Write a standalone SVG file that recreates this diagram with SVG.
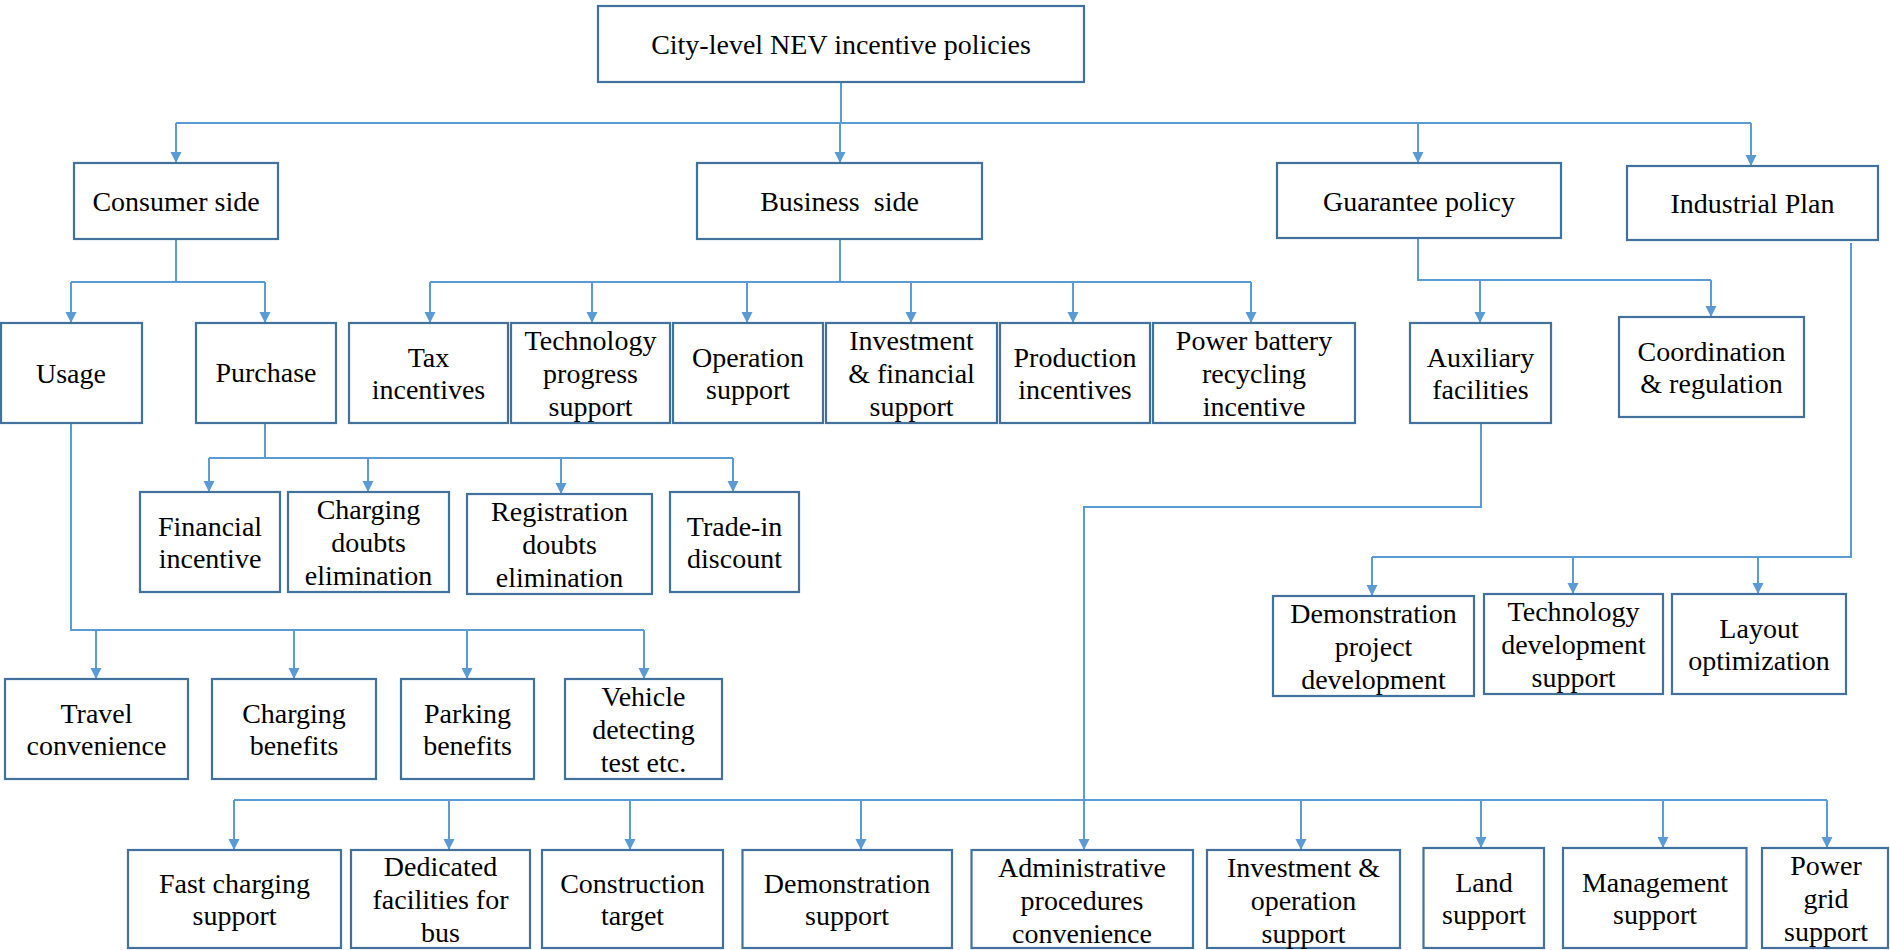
<svg xmlns="http://www.w3.org/2000/svg" width="1890" height="950" viewBox="0 0 1890 950">
<style>
.box{fill:#fff;stroke:#41719C;stroke-width:2.2}
.c{fill:none;stroke:#5B9BD5;stroke-width:2}
.a{fill:none;stroke:#5B9BD5;stroke-width:2;marker-end:url(#arr)}
text{font-family:"Liberation Serif","Times New Roman",serif;font-size:28px;fill:#000;text-anchor:middle}
</style>
<defs>
<marker id="arr" markerUnits="userSpaceOnUse" markerWidth="12" markerHeight="12" refX="11" refY="5.5" orient="auto">
<path d="M0,0 L11,5.5 L0,11 z" fill="#5B9BD5"/>
</marker>
</defs>
<rect width="1890" height="950" fill="#fff"/>
<g id="connectors">
<path class="c" d="M841,82 V123 M176,123 H1751"/>
<path class="a" d="M176,123 V163"/>
<path class="a" d="M840,123 V163"/>
<path class="a" d="M1418,123 V163"/>
<path class="a" d="M1751,123 V166"/>
<path class="c" d="M176,239 V282 M71,282 H265"/>
<path class="a" d="M71,282 V323"/>
<path class="a" d="M265,282 V323"/>
<path class="c" d="M840,239 V282 M430,282 H1251"/>
<path class="a" d="M430,282 V323"/>
<path class="a" d="M592,282 V323"/>
<path class="a" d="M747,282 V323"/>
<path class="a" d="M911,282 V323"/>
<path class="a" d="M1073,282 V323"/>
<path class="a" d="M1251,282 V323"/>
<path class="c" d="M1418,238 V280 H1711"/>
<path class="a" d="M1480,280 V323"/>
<path class="a" d="M1711,280 V317"/>
<path class="c" d="M1851,243 V557 H1372"/>
<path class="a" d="M1372,557 V596"/>
<path class="a" d="M1573,557 V594"/>
<path class="a" d="M1758,557 V594"/>
<path class="c" d="M265,423 V458 M209,458 H733"/>
<path class="a" d="M209,458 V492"/>
<path class="a" d="M368,458 V492"/>
<path class="a" d="M561,458 V494"/>
<path class="a" d="M733,458 V492"/>
<path class="c" d="M71,423 V630 H644"/>
<path class="a" d="M96,630 V679"/>
<path class="a" d="M294,630 V679"/>
<path class="a" d="M467,630 V679"/>
<path class="a" d="M644,630 V679"/>
<path class="c" d="M1481,423 V507 H1084 V800 M234,800 H1827"/>
<path class="a" d="M234,800 V850"/>
<path class="a" d="M449,800 V850"/>
<path class="a" d="M630,800 V850"/>
<path class="a" d="M861,800 V850"/>
<path class="a" d="M1084,800 V850"/>
<path class="a" d="M1301,800 V850"/>
<path class="a" d="M1481,800 V848"/>
<path class="a" d="M1663,800 V848"/>
<path class="a" d="M1827,800 V848"/>
</g>
<g id="root"><rect class="box" x="598" y="6" width="486" height="76"/><text x="841" y="54">City-level NEV incentive policies</text></g>
<g id="consumer"><rect class="box" x="74" y="163" width="204" height="76"/><text x="176" y="211">Consumer side</text></g>
<g id="business"><rect class="box" x="697" y="163" width="285" height="76"/><text x="839.5" y="211" xml:space="preserve">Business  side</text></g>
<g id="guarantee"><rect class="box" x="1277" y="163" width="284" height="75"/><text x="1419" y="211">Guarantee policy</text></g>
<g id="industrial"><rect class="box" x="1627" y="166" width="251" height="74"/><text x="1752.5" y="213">Industrial Plan</text></g>
<g id="usage"><rect class="box" x="1" y="323" width="141" height="100"/><text x="71" y="383">Usage</text></g>
<g id="purchase"><rect class="box" x="196" y="323" width="140" height="100"/><text x="266" y="382">Purchase</text></g>
<g id="tax"><rect class="box" x="349" y="323" width="159" height="100"/><text x="428.5" y="367">Tax</text><text x="428.5" y="399">incentives</text></g>
<g id="techprog"><rect class="box" x="511" y="323" width="159" height="100"/><text x="590.5" y="350">Technology</text><text x="590.5" y="383">progress</text><text x="590.5" y="416">support</text></g>
<g id="operation"><rect class="box" x="673" y="323" width="150" height="100"/><text x="748" y="367">Operation</text><text x="748" y="399">support</text></g>
<g id="investfin"><rect class="box" x="826" y="323" width="171" height="100"/><text x="911.5" y="350">Investment</text><text x="911.5" y="383">&amp; financial</text><text x="911.5" y="416">support</text></g>
<g id="production"><rect class="box" x="1000" y="323" width="150" height="100"/><text x="1075" y="367">Production</text><text x="1075" y="399">incentives</text></g>
<g id="battery"><rect class="box" x="1153" y="323" width="202" height="100"/><text x="1254" y="350">Power battery</text><text x="1254" y="383">recycling</text><text x="1254" y="416">incentive</text></g>
<g id="auxiliary"><rect class="box" x="1410" y="323" width="141" height="100"/><text x="1480.5" y="367">Auxiliary</text><text x="1480.5" y="399">facilities</text></g>
<g id="coordination"><rect class="box" x="1619" y="317" width="185" height="100"/><text x="1711.5" y="361">Coordination</text><text x="1711.5" y="393">&amp; regulation</text></g>
<g id="financial"><rect class="box" x="140" y="492" width="140" height="100"/><text x="210" y="536">Financial</text><text x="210" y="568">incentive</text></g>
<g id="chargingdoubts"><rect class="box" x="288" y="492" width="161" height="100"/><text x="368.5" y="519">Charging</text><text x="368.5" y="552">doubts</text><text x="368.5" y="585">elimination</text></g>
<g id="registration"><rect class="box" x="467" y="494" width="185" height="100"/><text x="559.5" y="521">Registration</text><text x="559.5" y="554">doubts</text><text x="559.5" y="587">elimination</text></g>
<g id="tradein"><rect class="box" x="670" y="492" width="129" height="100"/><text x="734.5" y="536">Trade-in</text><text x="734.5" y="568">discount</text></g>
<g id="travel"><rect class="box" x="5" y="679" width="183" height="100"/><text x="96.5" y="723">Travel</text><text x="96.5" y="755">convenience</text></g>
<g id="chargingbenefits"><rect class="box" x="212" y="679" width="164" height="100"/><text x="294" y="723">Charging</text><text x="294" y="755">benefits</text></g>
<g id="parking"><rect class="box" x="401" y="679" width="133" height="100"/><text x="467.5" y="723">Parking</text><text x="467.5" y="755">benefits</text></g>
<g id="vehicle"><rect class="box" x="565" y="679" width="157" height="100"/><text x="643.5" y="706">Vehicle</text><text x="643.5" y="739">detecting</text><text x="643.5" y="772">test etc.</text></g>
<g id="demoproject"><rect class="box" x="1273" y="596" width="201" height="100"/><text x="1373.5" y="623">Demonstration</text><text x="1373.5" y="656">project</text><text x="1373.5" y="689">development</text></g>
<g id="techdev"><rect class="box" x="1484" y="594" width="179" height="100"/><text x="1573.5" y="621">Technology</text><text x="1573.5" y="654">development</text><text x="1573.5" y="687">support</text></g>
<g id="layout"><rect class="box" x="1672" y="594" width="174" height="100"/><text x="1759" y="638">Layout</text><text x="1759" y="670">optimization</text></g>
<g id="fastcharging"><rect class="box" x="128" y="850" width="213" height="98"/><text x="234.5" y="893">Fast charging</text><text x="234.5" y="925">support</text></g>
<g id="dedicated"><rect class="box" x="351" y="850" width="179" height="98"/><text x="440.5" y="876">Dedicated</text><text x="440.5" y="909">facilities for</text><text x="440.5" y="942">bus</text></g>
<g id="construction"><rect class="box" x="542" y="850" width="181" height="98"/><text x="632.5" y="893">Construction</text><text x="632.5" y="925">target</text></g>
<g id="demosupport"><rect class="box" x="742.5" y="850" width="209.5" height="98"/><text x="847" y="893">Demonstration</text><text x="847" y="925">support</text></g>
<g id="admin"><rect class="box" x="971.5" y="850" width="221.5" height="98"/><text x="1082" y="877">Administrative</text><text x="1082" y="910">procedures</text><text x="1082" y="943">convenience</text></g>
<g id="investop"><rect class="box" x="1207" y="850" width="193" height="98"/><text x="1303.5" y="877">Investment &amp;</text><text x="1303.5" y="910">operation</text><text x="1303.5" y="943">support</text></g>
<g id="land"><rect class="box" x="1423.5" y="848" width="120.5" height="100"/><text x="1484" y="892">Land</text><text x="1484" y="924">support</text></g>
<g id="management"><rect class="box" x="1563" y="848" width="183.5" height="100"/><text x="1655" y="892">Management</text><text x="1655" y="924">support</text></g>
<g id="powergrid"><rect class="box" x="1762" y="848" width="126" height="100"/><text x="1826" y="875">Power</text><text x="1826" y="908">grid</text><text x="1826" y="941">support</text></g>
</svg>
